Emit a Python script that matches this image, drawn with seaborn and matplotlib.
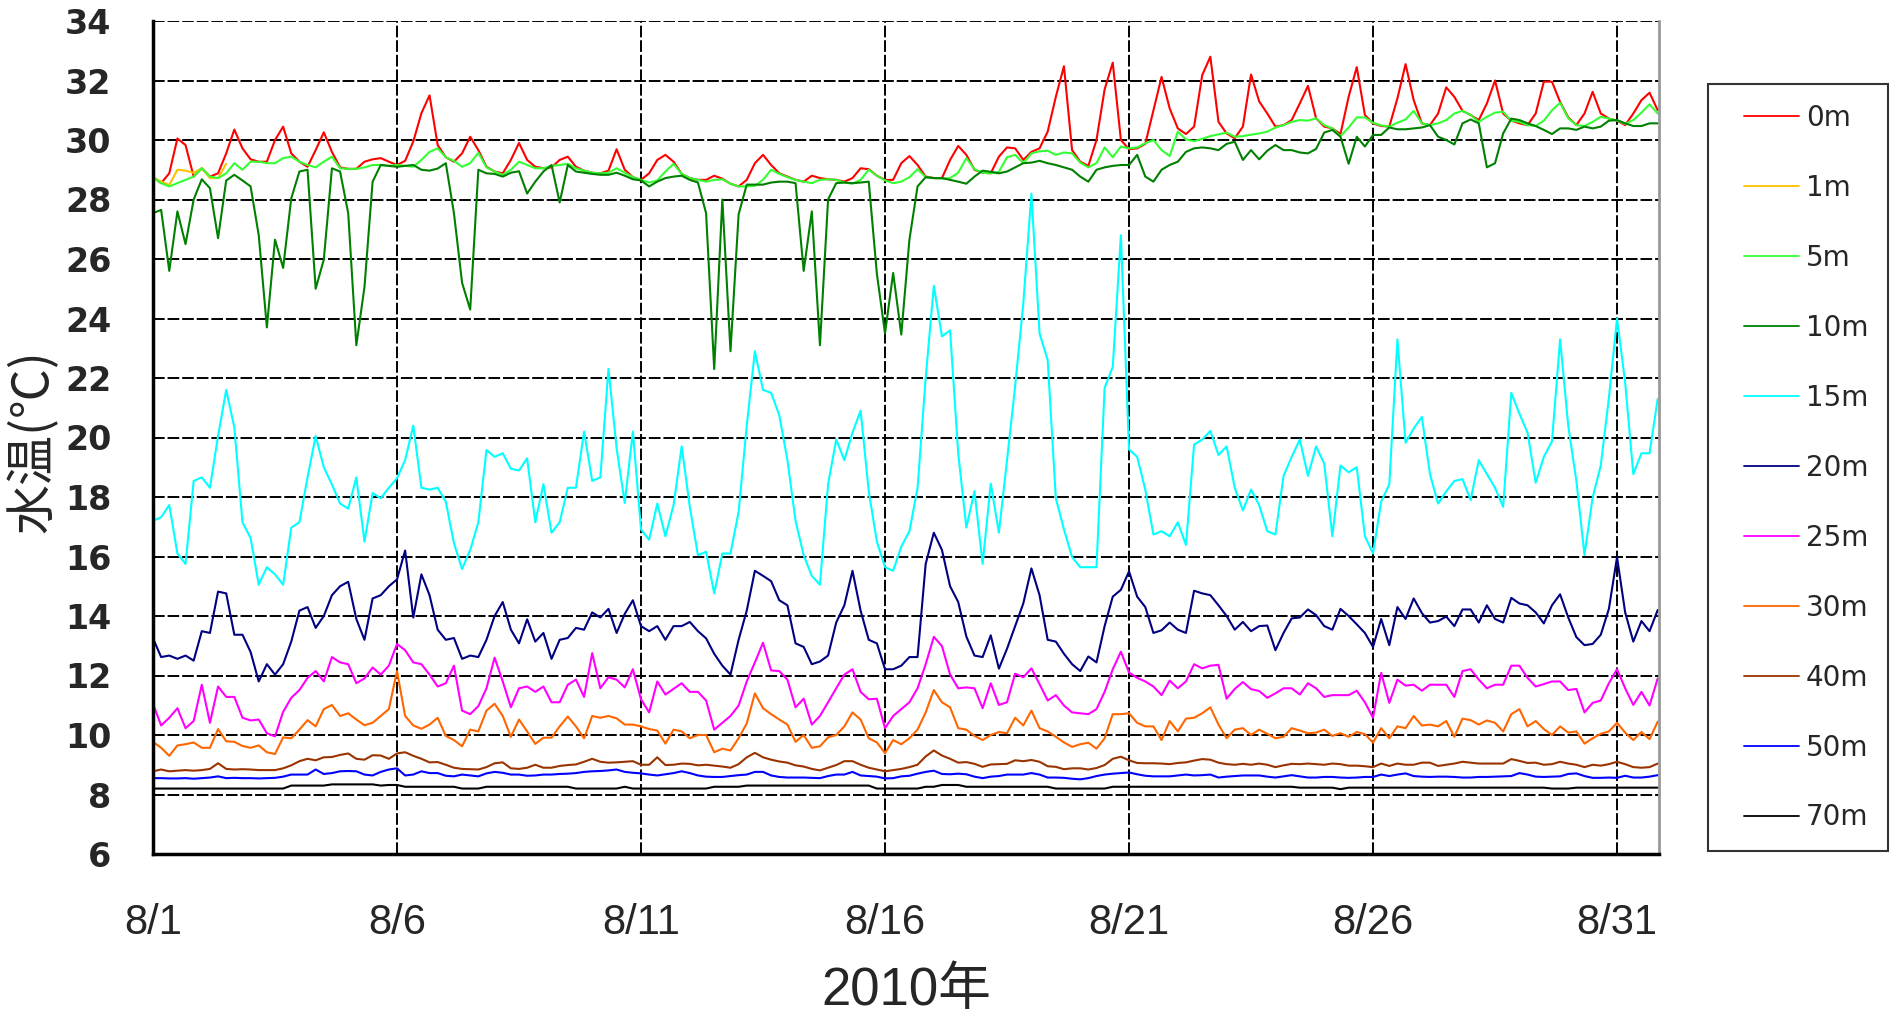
import numpy as np
import pandas as pd
import matplotlib
matplotlib.use("Agg")
import matplotlib.pyplot as plt
from matplotlib.lines import Line2D
from matplotlib.legend_handler import HandlerLine2D
import seaborn as sns

# Water temperature by depth, August 2010, one reading every 4 hours from 8/1 00:00
STEP_HOURS = 4

temp_0m = [
    28.75, 28.55, 28.88, 30.05, 29.83, 28.77,
    29.05, 28.77, 28.88, 29.55, 30.35, 29.72,
    29.35, 29.27, 29.27, 30.00, 30.45, 29.55,
    29.27, 29.10, 29.66, 30.26, 29.60, 29.08,
    29.03, 29.03, 29.27, 29.35, 29.39, 29.27,
    29.16, 29.30, 29.95, 30.90, 31.50, 29.83,
    29.42, 29.27, 29.55, 30.11, 29.66, 29.10,
    28.94, 28.88, 29.33, 29.90, 29.33, 29.10,
    29.05, 29.08, 29.33, 29.44, 29.10, 28.97,
    28.90, 28.88, 28.97, 29.69, 29.00, 28.75,
    28.66, 28.88, 29.33, 29.50, 29.27, 28.86,
    28.72, 28.66, 28.66, 28.80, 28.70, 28.53,
    28.44, 28.66, 29.22, 29.50, 29.16, 28.88,
    28.77, 28.66, 28.60, 28.80, 28.72, 28.68,
    28.66, 28.60, 28.72, 29.05, 29.02, 28.80,
    28.66, 28.66, 29.22, 29.46, 29.16, 28.77,
    28.72, 28.72, 29.33, 29.80, 29.50, 29.00,
    28.90, 28.88, 29.44, 29.75, 29.72, 29.33,
    29.60, 29.72, 30.28, 31.45, 32.48, 29.66,
    29.27, 29.13, 30.00, 31.70, 32.60, 30.00,
    29.69, 29.72, 29.87, 31.00, 32.12, 31.06,
    30.39, 30.20, 30.45, 32.18, 32.80, 30.61,
    30.22, 30.06, 30.45, 32.20, 31.30, 30.89,
    30.45, 30.50, 30.67, 31.23, 31.82, 30.73,
    30.45, 30.39, 30.20, 31.45, 32.45, 30.84,
    30.56, 30.47, 30.45, 31.40, 32.55, 31.34,
    30.56, 30.50, 30.89, 31.77, 31.45, 30.98,
    30.84, 30.67, 31.23, 32.00, 30.89, 30.65,
    30.56, 30.50, 30.89, 31.96, 31.96, 31.28,
    30.76, 30.50, 30.89, 31.62, 30.89, 30.72,
    30.65, 30.50, 30.89, 31.34, 31.59, 31.00,
]

# the 1 m logger only recorded the first day and a half
temp_1m = [28.75, 28.60, 28.49, 29.00, 28.97, 28.90, 29.05, 28.72, 28.72, 29.20]

temp_5m = [
    28.75, 28.55, 28.44, 28.55, 28.66, 28.77,
    29.05, 28.77, 28.72, 28.88, 29.22, 29.00,
    29.27, 29.27, 29.22, 29.22, 29.39, 29.44,
    29.27, 29.16, 29.08, 29.27, 29.44, 29.05,
    29.03, 29.03, 29.08, 29.16, 29.16, 29.13,
    29.16, 29.13, 29.10, 29.33, 29.60, 29.72,
    29.42, 29.30, 29.10, 29.22, 29.57, 29.08,
    28.94, 28.83, 29.00, 29.27, 29.16, 29.05,
    29.05, 29.13, 29.16, 29.20, 29.05, 28.97,
    28.90, 28.88, 28.90, 29.05, 28.90, 28.75,
    28.66, 28.57, 28.64, 28.94, 29.20, 28.86,
    28.72, 28.66, 28.60, 28.66, 28.68, 28.53,
    28.44, 28.44, 28.46, 28.66, 29.00, 28.86,
    28.75, 28.66, 28.60, 28.55, 28.66, 28.68,
    28.66, 28.57, 28.53, 28.66, 29.00, 28.80,
    28.64, 28.55, 28.60, 28.75, 29.02, 28.75,
    28.72, 28.70, 28.72, 28.90, 29.39, 29.02,
    28.90, 28.88, 28.93, 29.42, 29.50, 29.22,
    29.55, 29.62, 29.64, 29.50, 29.58, 29.55,
    29.24, 29.08, 29.22, 29.75, 29.42, 29.78,
    29.72, 29.75, 29.89, 30.00, 29.66, 29.46,
    30.28, 30.02, 29.96, 30.04, 30.13, 30.19,
    30.25, 30.11, 30.13, 30.18, 30.22, 30.28,
    30.42, 30.50, 30.61, 30.67, 30.65, 30.73,
    30.50, 30.39, 30.13, 30.42, 30.76, 30.76,
    30.58, 30.49, 30.45, 30.58, 30.69, 30.98,
    30.56, 30.50, 30.56, 30.67, 30.89, 30.98,
    30.84, 30.61, 30.78, 30.92, 30.95, 30.65,
    30.61, 30.50, 30.47, 30.65, 31.00, 31.25,
    30.73, 30.50, 30.47, 30.61, 30.78, 30.72,
    30.65, 30.54, 30.67, 30.92, 31.20, 30.89,
]

temp_10m = [
    27.54, 27.65, 25.60, 27.60, 26.50, 28.00,
    28.68, 28.38, 26.70, 28.64, 28.83, 28.64,
    28.44, 26.80, 23.70, 26.65, 25.70, 28.04,
    28.94, 29.00, 25.00, 25.98, 29.05, 28.94,
    27.54, 23.10, 25.06, 28.60, 29.16, 29.13,
    29.10, 29.13, 29.16, 29.00, 28.97, 29.04,
    29.22, 27.54, 25.20, 24.30, 29.00, 28.88,
    28.86, 28.77, 28.90, 28.95, 28.20, 28.60,
    28.94, 29.16, 27.90, 29.16, 28.94, 28.90,
    28.86, 28.83, 28.83, 28.90, 28.80, 28.68,
    28.64, 28.44, 28.60, 28.72, 28.77, 28.80,
    28.66, 28.57, 27.54, 22.30, 28.00, 22.90,
    27.50, 28.50, 28.50, 28.50, 28.57, 28.60,
    28.60, 28.55, 25.60, 27.60, 23.10, 28.00,
    28.55, 28.57, 28.55, 28.57, 28.60, 25.50,
    23.50, 25.53, 23.46, 26.65, 28.44, 28.75,
    28.72, 28.72, 28.66, 28.60, 28.53, 28.77,
    28.97, 28.93, 28.88, 28.94, 29.08, 29.22,
    29.24, 29.30, 29.22, 29.16, 29.08, 29.00,
    28.77, 28.60, 29.00, 29.08, 29.13, 29.16,
    29.16, 29.50, 28.77, 28.60, 29.00, 29.16,
    29.27, 29.60, 29.72, 29.75, 29.72, 29.66,
    29.87, 29.94, 29.33, 29.66, 29.35, 29.64,
    29.83, 29.66, 29.66, 29.58, 29.55, 29.70,
    30.25, 30.34, 30.11, 29.20, 30.11, 29.78,
    30.17, 30.17, 30.42, 30.36, 30.36, 30.39,
    30.42, 30.50, 30.11, 30.00, 29.85, 30.56,
    30.69, 30.56, 29.08, 29.22, 30.22, 30.72,
    30.67, 30.56, 30.47, 30.34, 30.20, 30.39,
    30.39, 30.34, 30.45, 30.39, 30.45, 30.65,
    30.67, 30.56, 30.47, 30.47, 30.56, 30.56,
]

temp_15m = [
    17.20, 17.32, 17.73, 16.10, 15.75, 18.54,
    18.66, 18.31, 20.05, 21.60, 20.34, 17.15,
    16.62, 15.05, 15.64, 15.40, 15.05, 16.97,
    17.15, 18.66, 20.05, 19.00, 18.42, 17.78,
    17.61, 18.66, 16.50, 18.13, 17.96, 18.31,
    18.63, 19.24, 20.40, 18.31, 18.25, 18.31,
    17.84, 16.45, 15.58, 16.22, 17.15, 19.58,
    19.35, 19.47, 18.95, 18.89, 19.30, 17.15,
    18.43, 16.80, 17.15, 18.31, 18.31, 20.20,
    18.54, 18.66, 22.31, 19.64, 17.80, 20.20,
    16.91, 16.56, 17.78, 16.68, 17.73, 19.70,
    17.67, 16.04, 16.16, 14.76, 16.10, 16.10,
    17.50, 20.40, 22.90, 21.60, 21.50, 20.75,
    19.24, 17.20, 16.04, 15.35, 15.05, 18.43,
    19.93, 19.24, 20.16, 20.90, 18.19, 16.50,
    15.64, 15.52, 16.33, 16.85, 18.30, 22.00,
    25.10, 23.40, 23.60, 19.47, 16.97, 18.20,
    15.75, 18.45, 16.80, 19.24, 21.73, 24.50,
    28.20, 23.50, 22.60, 17.96, 16.91, 15.98,
    15.64, 15.64, 15.64, 21.67, 22.37, 26.80,
    19.60, 19.35, 18.25, 16.74, 16.85, 16.68,
    17.15, 16.39, 19.76, 19.93, 20.22, 19.41,
    19.70, 18.31, 17.55, 18.25, 17.73, 16.85,
    16.74, 18.71, 19.35, 19.93, 18.71, 19.70,
    19.12, 16.68, 19.06, 18.83, 19.00, 16.68,
    16.10, 17.84, 18.42, 23.30, 19.82, 20.30,
    20.69, 18.77, 17.78, 18.19, 18.54, 18.60,
    17.90, 19.24, 18.77, 18.31, 17.67, 21.50,
    20.80, 20.16, 18.48, 19.35, 19.87, 23.30,
    20.40, 18.54, 16.05, 17.98, 19.06, 21.33,
    24.00, 21.85, 18.77, 19.47, 19.47, 21.30,
]

temp_20m = [
    13.25, 12.62, 12.67, 12.56, 12.67, 12.50,
    13.49, 13.43, 14.82, 14.76, 13.37, 13.37,
    12.79, 11.80, 12.38, 12.03, 12.38, 13.14,
    14.18, 14.30, 13.60, 14.00, 14.70, 15.00,
    15.15, 13.90, 13.20, 14.59, 14.70, 15.00,
    15.23, 16.20, 13.95, 15.40, 14.70, 13.54,
    13.20, 13.26, 12.56, 12.67, 12.62, 13.20,
    14.00, 14.47, 13.54, 13.08, 13.89, 13.14,
    13.43, 12.56, 13.20, 13.26, 13.60, 13.54,
    14.12, 13.95, 14.24, 13.43, 14.07, 14.53,
    13.66, 13.49, 13.66, 13.20, 13.66, 13.66,
    13.80, 13.49, 13.25, 12.73, 12.33, 12.03,
    13.20, 14.18, 15.52, 15.35, 15.17, 14.53,
    14.36, 13.08, 12.96, 12.38, 12.47, 12.67,
    13.78, 14.36, 15.52, 14.18, 13.20, 13.08,
    12.21, 12.21, 12.33, 12.62, 12.62, 15.75,
    16.80, 16.22, 15.00, 14.47, 13.31, 12.67,
    12.62, 13.35, 12.23, 12.90, 13.66, 14.42,
    15.60, 14.70, 13.20, 13.14, 12.73, 12.38,
    12.15, 12.64, 12.44, 13.66, 14.65, 14.88,
    15.50, 14.65, 14.30, 13.43, 13.52, 13.78,
    13.54, 13.43, 14.85, 14.76, 14.70, 14.36,
    14.00, 13.54, 13.80, 13.49, 13.66, 13.68,
    12.85, 13.43, 13.92, 13.95, 14.22, 14.03,
    13.66, 13.54, 14.24, 14.00, 13.72, 13.43,
    12.96, 13.90, 13.02, 14.30, 13.90, 14.59,
    14.10, 13.78, 13.83, 13.98, 13.66, 14.22,
    14.22, 13.78, 14.36, 13.90, 13.78, 14.61,
    14.42, 14.36, 14.12, 13.75, 14.36, 14.73,
    13.95, 13.29, 13.02, 13.06, 13.37, 14.24,
    15.98, 14.12, 13.14, 13.83, 13.49, 14.20,
]

temp_25m = [
    11.05, 10.32, 10.58, 10.90, 10.23, 10.47,
    11.69, 10.41, 11.63, 11.28, 11.28, 10.58,
    10.49, 10.52, 10.06, 9.95, 10.78, 11.25,
    11.51, 11.92, 12.15, 11.80, 12.62, 12.44,
    12.38, 11.74, 11.90, 12.27, 12.03, 12.33,
    13.06, 12.85, 12.44, 12.38, 12.03, 11.63,
    11.74, 12.33, 10.82, 10.70, 10.97, 11.57,
    12.60, 11.80, 10.93, 11.57, 11.63, 11.45,
    11.63, 11.10, 11.10, 11.69, 11.86, 11.28,
    12.75, 11.57, 11.94, 11.86, 11.60, 12.21,
    11.20, 10.76, 11.80, 11.36, 11.55, 11.74,
    11.45, 11.45, 11.16, 10.18, 10.41, 10.64,
    10.99, 11.80, 12.44, 13.10, 12.17, 12.15,
    11.86, 10.93, 11.22, 10.35, 10.64, 11.10,
    11.57, 12.03, 12.21, 11.45, 11.20, 11.22,
    10.23, 10.64, 10.87, 11.10, 11.57, 12.38,
    13.30, 12.99, 12.03, 11.57, 11.60, 11.57,
    10.90, 11.74, 11.01, 11.10, 12.06, 11.94,
    12.24, 11.71, 11.16, 11.34, 10.99, 10.76,
    10.73, 10.70, 10.87, 11.45, 12.21, 12.80,
    12.10, 11.92, 11.80, 11.63, 11.34, 11.83,
    11.57, 11.80, 12.38, 12.24, 12.33, 12.36,
    11.22, 11.55, 11.78, 11.54, 11.48, 11.25,
    11.40, 11.57, 11.57, 11.36, 11.74, 11.57,
    11.28, 11.34, 11.34, 11.34, 11.49, 11.10,
    10.58, 12.09, 11.08, 11.86, 11.66, 11.69,
    11.49, 11.69, 11.69, 11.69, 11.28, 12.15,
    12.21, 11.86, 11.57, 11.69, 11.69, 12.33,
    12.33, 11.92, 11.63, 11.71, 11.80, 11.80,
    11.51, 11.55, 10.76, 11.08, 11.16, 11.74,
    12.21, 11.57, 11.01, 11.45, 10.99, 11.90,
]

temp_30m = [
    9.77, 9.57, 9.30, 9.65, 9.69, 9.75,
    9.57, 9.57, 10.20, 9.79, 9.77, 9.63,
    9.57, 9.65, 9.42, 9.36, 9.92, 9.89,
    10.18, 10.50, 10.29, 10.87, 11.01, 10.64,
    10.73, 10.52, 10.33, 10.41, 10.64, 10.87,
    12.15, 10.64, 10.32, 10.21, 10.35, 10.58,
    9.97, 9.83, 9.62, 10.18, 10.12, 10.82,
    11.05, 10.64, 9.94, 10.52, 10.12, 9.70,
    9.91, 9.91, 10.29, 10.62, 10.29, 9.89,
    10.64, 10.58, 10.64, 10.56, 10.35, 10.35,
    10.29, 10.20, 10.15, 9.71, 10.18, 10.12,
    9.89, 10.00, 10.00, 9.42, 9.54, 9.48,
    9.89, 10.39, 11.40, 10.90, 10.70, 10.52,
    10.35, 9.77, 10.00, 9.57, 9.62, 9.92,
    10.00, 10.29, 10.76, 10.52, 9.89, 9.75,
    9.39, 9.83, 9.69, 9.89, 10.18, 10.76,
    11.51, 11.10, 10.93, 10.23, 10.18, 9.97,
    9.83, 10.00, 10.10, 10.06, 10.58, 10.32,
    10.82, 10.23, 10.12, 9.94, 9.75, 9.60,
    9.69, 9.74, 9.54, 9.89, 10.70, 10.70,
    10.73, 10.41, 10.29, 10.29, 9.83, 10.47,
    10.12, 10.55, 10.58, 10.73, 10.93, 10.35,
    9.89, 10.18, 10.23, 10.00, 10.18, 10.04,
    9.89, 9.94, 10.23, 10.15, 10.06, 10.08,
    10.18, 9.97, 10.06, 9.94, 10.10, 10.03,
    9.74, 10.23, 9.89, 10.29, 10.23, 10.64,
    10.32, 10.35, 10.29, 10.47, 9.94, 10.55,
    10.50, 10.35, 10.49, 10.41, 10.12, 10.70,
    10.87, 10.29, 10.47, 10.20, 10.00, 10.29,
    10.08, 10.12, 9.71, 9.89, 10.04, 10.12,
    10.41, 10.08, 9.83, 10.10, 9.86, 10.45,
]

temp_40m = [
    8.78, 8.84, 8.78, 8.80, 8.82, 8.80,
    8.82, 8.86, 9.05, 8.86, 8.84, 8.85,
    8.84, 8.82, 8.82, 8.82, 8.88, 8.98,
    9.12, 9.20, 9.15, 9.25, 9.26, 9.33,
    9.38, 9.20, 9.17, 9.32, 9.31, 9.20,
    9.38, 9.42, 9.30, 9.20, 9.08, 9.09,
    9.00, 8.90, 8.86, 8.85, 8.84, 8.92,
    9.05, 9.08, 8.88, 8.86, 8.90, 9.00,
    8.90, 8.90, 8.96, 8.99, 9.01, 9.10,
    9.20, 9.10, 9.07, 9.08, 9.10, 9.12,
    9.00, 9.00, 9.25, 8.99, 9.00, 9.04,
    9.03, 8.98, 9.00, 8.97, 8.94, 8.90,
    9.02, 9.25, 9.40, 9.25, 9.17, 9.11,
    9.07, 8.98, 8.94, 8.86, 8.81, 8.90,
    8.99, 9.12, 9.12, 9.00, 8.90, 8.84,
    8.78, 8.82, 8.86, 8.92, 9.00, 9.28,
    9.48, 9.31, 9.20, 9.07, 9.09, 9.03,
    8.93, 9.01, 9.02, 9.03, 9.15, 9.12,
    9.16, 9.10, 8.95, 8.93, 8.85, 8.88,
    8.88, 8.84, 8.89, 8.99, 9.20, 9.27,
    9.15, 9.06, 9.05, 9.05, 9.04, 9.02,
    9.06, 9.08, 9.14, 9.19, 9.17, 9.07,
    9.02, 9.00, 9.03, 9.00, 9.04, 9.00,
    8.92, 8.98, 9.03, 9.02, 9.04, 9.02,
    9.00, 9.04, 9.02, 8.97, 8.97, 8.95,
    8.92, 9.04, 8.96, 9.04, 9.00, 9.00,
    9.07, 9.07, 8.96, 9.00, 9.04, 9.10,
    9.07, 9.04, 9.04, 9.04, 9.04, 9.19,
    9.13, 9.06, 9.07, 9.00, 9.02, 9.10,
    9.04, 9.00, 8.92, 9.00, 8.97, 9.02,
    9.10, 9.02, 8.92, 8.90, 8.92, 9.04,
]

temp_50m = [
    8.55, 8.55, 8.54, 8.54, 8.55, 8.53,
    8.55, 8.57, 8.61, 8.55, 8.56, 8.55,
    8.55, 8.54, 8.55, 8.56, 8.60, 8.67,
    8.67, 8.67, 8.84, 8.69, 8.72, 8.78,
    8.79, 8.78, 8.67, 8.64, 8.76, 8.84,
    8.88, 8.64, 8.67, 8.78, 8.72, 8.72,
    8.63, 8.61, 8.67, 8.64, 8.61, 8.71,
    8.76, 8.73, 8.67, 8.67, 8.63, 8.64,
    8.67, 8.67, 8.69, 8.70, 8.72, 8.76,
    8.78, 8.79, 8.81, 8.84, 8.76, 8.73,
    8.71, 8.67, 8.64, 8.68, 8.72, 8.78,
    8.72, 8.64, 8.60, 8.59, 8.59, 8.62,
    8.65, 8.67, 8.76, 8.76, 8.64, 8.59,
    8.57, 8.57, 8.57, 8.56, 8.55, 8.62,
    8.67, 8.67, 8.76, 8.64, 8.62, 8.60,
    8.54, 8.55, 8.61, 8.63, 8.70, 8.76,
    8.80, 8.69, 8.68, 8.70, 8.68, 8.60,
    8.55, 8.60, 8.62, 8.67, 8.67, 8.67,
    8.72, 8.67, 8.57, 8.57, 8.56, 8.53,
    8.51, 8.55, 8.62, 8.67, 8.70, 8.72,
    8.74, 8.68, 8.63, 8.61, 8.61, 8.61,
    8.64, 8.67, 8.64, 8.65, 8.67, 8.57,
    8.60, 8.62, 8.64, 8.64, 8.64, 8.60,
    8.57, 8.61, 8.65, 8.61, 8.57, 8.57,
    8.59, 8.59, 8.57, 8.56, 8.57, 8.59,
    8.59, 8.67, 8.62, 8.67, 8.71, 8.62,
    8.60, 8.59, 8.60, 8.60, 8.59, 8.57,
    8.57, 8.59, 8.59, 8.60, 8.61, 8.62,
    8.72, 8.67, 8.60, 8.59, 8.60, 8.61,
    8.69, 8.71, 8.62, 8.56, 8.56, 8.57,
    8.56, 8.63, 8.57, 8.57, 8.60, 8.65,
]

temp_70m = [
    8.20, 8.20, 8.20, 8.20, 8.20, 8.20,
    8.20, 8.20, 8.20, 8.20, 8.20, 8.20,
    8.20, 8.20, 8.20, 8.20, 8.20, 8.30,
    8.30, 8.30, 8.30, 8.30, 8.34, 8.34,
    8.34, 8.34, 8.34, 8.34, 8.30, 8.32,
    8.32, 8.26, 8.26, 8.26, 8.26, 8.26,
    8.26, 8.26, 8.20, 8.20, 8.20, 8.26,
    8.26, 8.26, 8.26, 8.26, 8.26, 8.26,
    8.26, 8.26, 8.26, 8.26, 8.20, 8.20,
    8.20, 8.20, 8.20, 8.20, 8.26, 8.20,
    8.20, 8.20, 8.20, 8.20, 8.20, 8.20,
    8.20, 8.20, 8.20, 8.26, 8.26, 8.26,
    8.26, 8.30, 8.30, 8.30, 8.30, 8.30,
    8.30, 8.30, 8.30, 8.30, 8.30, 8.30,
    8.30, 8.30, 8.30, 8.30, 8.30, 8.20,
    8.20, 8.20, 8.20, 8.20, 8.20, 8.26,
    8.26, 8.32, 8.32, 8.32, 8.26, 8.26,
    8.26, 8.26, 8.26, 8.26, 8.26, 8.26,
    8.26, 8.26, 8.26, 8.20, 8.20, 8.20,
    8.20, 8.20, 8.20, 8.20, 8.26, 8.26,
    8.26, 8.26, 8.26, 8.26, 8.26, 8.26,
    8.26, 8.26, 8.26, 8.26, 8.26, 8.26,
    8.26, 8.26, 8.26, 8.26, 8.26, 8.26,
    8.26, 8.26, 8.26, 8.23, 8.23, 8.23,
    8.23, 8.23, 8.18, 8.23, 8.23, 8.23,
    8.23, 8.23, 8.23, 8.23, 8.23, 8.23,
    8.23, 8.23, 8.23, 8.23, 8.23, 8.23,
    8.23, 8.23, 8.23, 8.23, 8.23, 8.23,
    8.23, 8.23, 8.23, 8.23, 8.20, 8.20,
    8.20, 8.23, 8.23, 8.23, 8.23, 8.23,
    8.23, 8.23, 8.23, 8.23, 8.23, 8.23,
]

depth_labels = ["0m", "1m", "5m", "10m", "15m", "20m", "25m", "30m", "40m", "50m", "70m"]
depth_colors = ["#FF0000", "#FFC000", "#33FF33", "#008000", "#00FFFF", "#000080",
                "#FF00FF", "#FF6600", "#993300", "#0000FF", "#000000"]
series = [temp_0m, temp_1m, temp_5m, temp_10m, temp_15m, temp_20m,
          temp_25m, temp_30m, temp_40m, temp_50m, temp_70m]

tick_days = [0, 5, 10, 15, 20, 25, 30]
tick_labels = ["8/1", "8/6", "8/11", "8/16", "8/21", "8/26", "8/31"]
y_ticks = list(range(6, 35, 2))

n_steps = len(temp_0m)
elapsed_days = np.arange(n_steps) * STEP_HOURS / 24.0

frames = []
for label, values in zip(depth_labels, series):
    vals = np.full(n_steps, np.nan)
    vals[:len(values)] = values
    frames.append(pd.DataFrame({"day": elapsed_days, "temp": vals, "depth": label}))
df = pd.concat(frames, ignore_index=True)

sns.set_theme(style="white")
plt.rcParams["font.family"] = ["DejaVu Sans"]

W, H = 1893, 1016
fig = plt.figure(figsize=(W / 100, H / 100), dpi=100)
fig.patch.set_facecolor("white")
left, right, top, bottom = 153, 1659, 21, 854
ax = fig.add_axes([left / W, 1 - bottom / H, (right - left) / W, (bottom - top) / H])

sns.lineplot(data=df, x="day", y="temp", hue="depth", hue_order=depth_labels,
             palette=dict(zip(depth_labels, depth_colors)), estimator=None,
             errorbar=None, sort=False, linewidth=1.5, legend=False, ax=ax)

ax.set_xlim(0, 30.86)
ax.set_ylim(6, 34)
ax.set_xticks(tick_days)
ax.set_yticks(y_ticks)
ax.set_xlabel("")
ax.set_ylabel("")
ax.set_axisbelow(True)
ax.grid(True, axis="both", color="black", linestyle=(0, (6, 1.5)), linewidth=1.4)

ax.set_xticklabels(tick_labels, fontsize=30, family="Liberation Sans")
ax.set_yticklabels([str(v) for v in y_ticks], fontsize=24, fontweight="bold")
ax.tick_params(axis="x", length=0, pad=35)
ax.tick_params(axis="y", length=0, pad=30)

for side in ("left", "bottom"):
    ax.spines[side].set_color("black")
    ax.spines[side].set_linewidth(2.5)
ax.spines["top"].set_visible(False)
ax.spines["right"].set_color("#999999")
ax.spines["right"].set_linewidth(2)

fig.text(34 / W, 1 - 441 / H, "水温(℃)", rotation=90, ha="center", va="center",
         fontsize=36, family=["Noto Sans CJK JP", "DejaVu Sans"])
fig.text(906 / W, 1 - 991 / H, "2010年", ha="center", va="center",
         fontsize=38, family=["Liberation Sans", "Noto Sans CJK JP"])


class InsetLineHandler(HandlerLine2D):
    """Legend key line that starts a little in from the left edge of its slot."""

    def __init__(self, lead=0.25, **kw):
        super().__init__(**kw)
        self.lead = lead

    def create_artists(self, legend, orig_handle, xdescent, ydescent, width,
                       height, fontsize, trans):
        shift = self.lead * width
        return super().create_artists(legend, orig_handle, xdescent - shift, ydescent,
                                      width - shift, height, fontsize, trans)


handles = [Line2D([], [], color=c, linewidth=1.3) for c in depth_colors]
leg = fig.legend(handles, depth_labels, loc="upper left",
                 bbox_to_anchor=(1708 / W, 1 - 84 / H),
                 frameon=True, fancybox=False, edgecolor="black", fontsize=20,
                 labelspacing=1.51, handlelength=2.55, handletextpad=0.25,
                 borderpad=0.72, borderaxespad=0,
                 handler_map={Line2D: InsetLineHandler(lead=0.23)})
leg.get_frame().set_linewidth(1.5)

fig.savefig("out.png", dpi=100, facecolor="white")
